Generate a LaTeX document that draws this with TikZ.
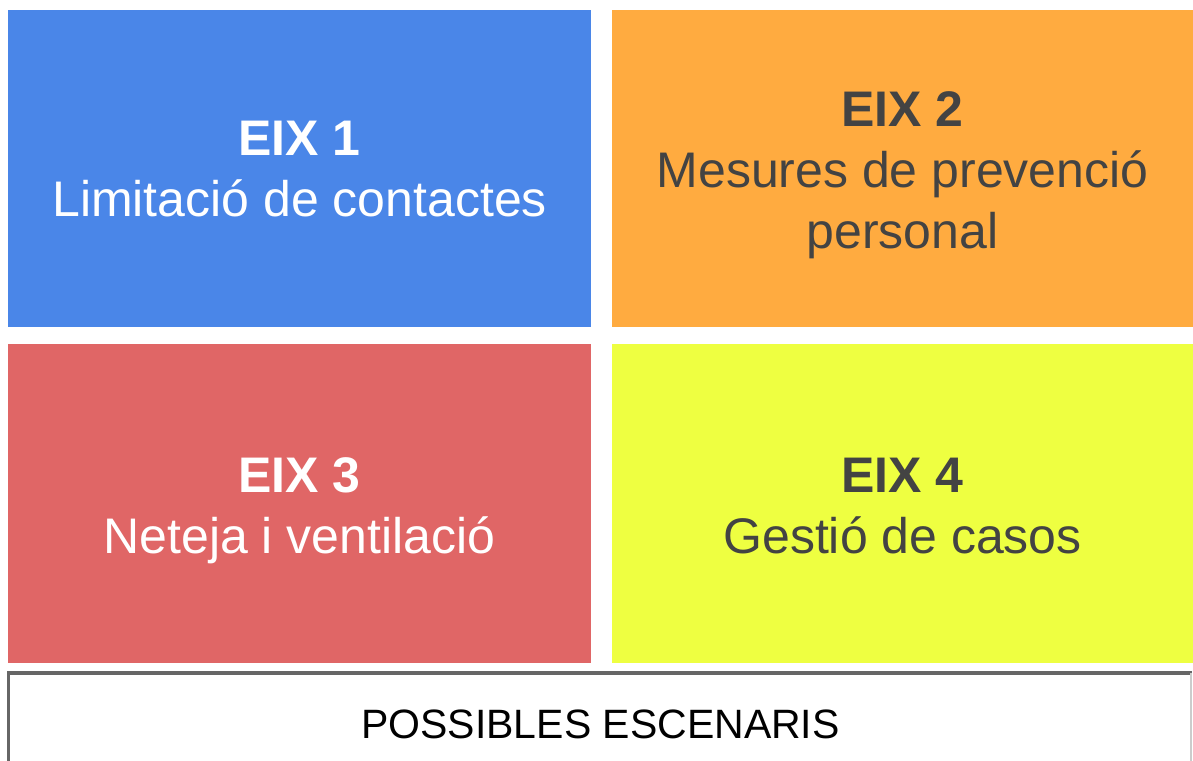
\documentclass[tikz,border=0pt]{standalone}
\usepackage{fontspec}
\setmainfont{Liberation Sans}
\definecolor{cblue}{HTML}{4A86E8}
\definecolor{corange}{HTML}{FFAB40}
\definecolor{cred}{HTML}{E06666}
\definecolor{cyellow}{HTML}{EEFF41}
\definecolor{ctext}{HTML}{434343}
\definecolor{cborder}{HTML}{666666}
\definecolor{clight}{HTML}{CCCCCC}
\tikzset{
  panel/.style={draw=none, inner sep=0pt, minimum width=582.7pt, minimum height=317pt, anchor=north west},
  ttl/.style={anchor=base, inner sep=0pt, font=\fontsize{50}{61}\selectfont\bfseries},
  bdy/.style={anchor=base, inner sep=0pt, font=\fontsize{50}{61}\selectfont},
}
\begin{document}
\begin{tikzpicture}[x=1pt,y=-1pt]
\useasboundingbox (0,0) rectangle (1193,760);
\clip (0,0) rectangle (1193,760);
\fill[white] (0,0) rectangle (1193,760);
% panels
\node[panel, fill=cblue] (p1) at (8,10) {};
\node[panel, fill=corange, minimum width=581.3pt] (p2) at (611.7,10) {};
\node[panel, fill=cred, minimum height=319pt] (p3) at (8,344) {};
\node[panel, fill=cyellow, minimum width=581.3pt, minimum height=319pt] (p4) at (611.7,344) {};
% texts
\node[ttl, text=white] (t1) at ([yshift=13pt]p1.center) {EIX 1};
\node[bdy, text=white] (s1) at ([yshift=-48pt]p1.center) {Limitació de contactes};
\node[ttl, text=ctext] (t2) at ([yshift=42pt]p2.center) {EIX 2};
\node[bdy, text=ctext] (s2a) at ([yshift=-19pt]p2.center) {Mesures de prevenció};
\node[bdy, text=ctext] (s2b) at ([yshift=-80pt]p2.center) {personal};
\node[ttl, text=white] (t3) at ([yshift=11pt]p3.center) {EIX 3};
\node[bdy, text=white] (s3) at ([yshift=-50pt]p3.center) {Neteja i ventilació};
\node[ttl, text=ctext] (t4) at ([yshift=11pt]p4.center) {EIX 4};
\node[bdy, text=ctext] (s4) at ([yshift=-50pt]p4.center) {Gestió de casos};
% scenarios box
\node[draw=none, fill=white, inner sep=0pt, minimum width=1183pt, minimum height=100pt, anchor=north west] (sc) at (8.7,672.8) {};
\draw[cborder, line width=3.5pt] (sc.south west) -- (sc.north west) -- (sc.north east);
\draw[clight, line width=2pt] ([xshift=-0.8pt]sc.north east) -- ([xshift=-0.8pt]sc.south east);
\node[anchor=base, inner sep=0pt, font=\fontsize{41}{49}\selectfont, text=black] (sct) at (600.5,738) {POSSIBLES ESCENARIS};
\end{tikzpicture}
\end{document}
